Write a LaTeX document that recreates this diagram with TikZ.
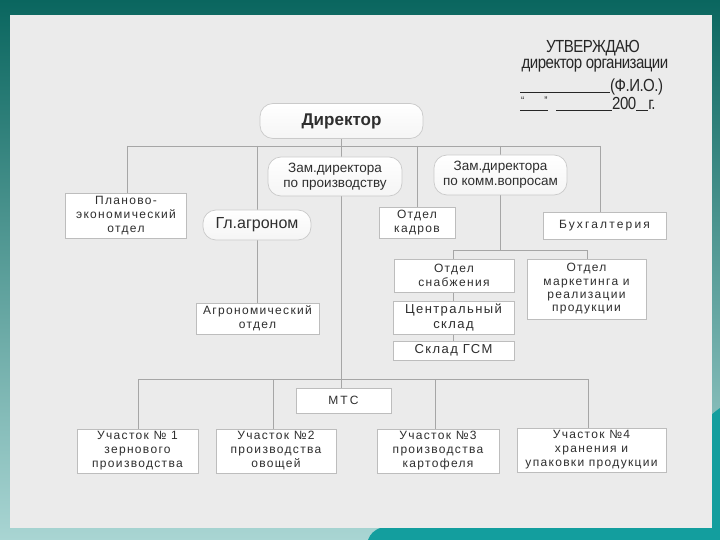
\documentclass[tikz,border=0pt]{standalone}
\usepackage{fontspec}
\setmainfont{Liberation Sans}
\newfontfamily\spf[LetterSpace=11]{Liberation Sans}
\newfontfamily\spfw[LetterSpace=18]{Liberation Sans}
\newfontfamily\narf[FakeStretch=0.86,LetterSpace=-3]{Liberation Sans}
\definecolor{tealtop}{HTML}{0A665F}
\definecolor{tealbot}{HTML}{A9D5D3}
\definecolor{tealbr}{HTML}{139E9E}
\definecolor{panel}{HTML}{EBEBEB}
\definecolor{bord}{HTML}{BDBDBD}
\definecolor{lncol}{HTML}{A6A6A6}
\definecolor{txt}{HTML}{2E2E2E}
\pgfdeclarelayer{bgl}
\pgfdeclarelayer{lines}
\pgfsetlayers{bgl,lines,main}
\tikzset{
  box/.style={draw=bord, line width=0.7pt, fill=white, align=center, text=txt,
    inner sep=1pt, font=\spf\fontsize{12}{14}\selectfont},
  rbox/.style={draw=bord!80, line width=0.7pt, rounded corners=13pt, top color=white,
    bottom color=white!92!gray, align=center, text=txt, inner sep=1pt,
    font=\fontsize{13.5}{15}\selectfont},
  ln/.style={draw=lncol, line width=0.8pt},
  stamp/.style={text=black!85, inner sep=0pt, font=\narf\fontsize{17.5}{19}\selectfont}
}
\begin{document}
\begin{tikzpicture}[x=1pt,y=-1pt]
\useasboundingbox (0,0) rectangle (720,540);
\begin{pgfonlayer}{bgl}
\fill[top color=tealtop, bottom color=tealbot] (0,0) rectangle (720,540);
\fill[tealbr] (368,540) .. controls (372,528) and (385,524) .. (410,524) -- (690,524)
  -- (690,440) .. controls (700,425) and (710,415) .. (720,408) -- (720,540) -- cycle;
\fill[panel] (10,15) rectangle (712,528);
\end{pgfonlayer}

% stamp
\node[stamp] (s1) at (593,48) {УТВЕРЖДАЮ};
\node[stamp] (s2) at (595,66) {директор организации};
\node[stamp, anchor=base west] (s3) at (520,92) {\rule[-1pt]{90pt}{0.7pt}(Ф.И.О.)};
\node[stamp, anchor=base west] (s4) at (520,110) {\makebox[0pt][l]{\raisebox{5pt}{\fontsize{11}{11}\selectfont\hspace{1pt}“\hspace{20pt}”}}\rule[-1pt]{28pt}{0.7pt}\hspace{8pt}\rule[-1pt]{56pt}{0.7pt}200\rule[-1pt]{12pt}{0.7pt}г.};

% top level
\node[rbox, minimum width=163pt, minimum height=35pt, font=\bfseries\fontsize{17}{20}\selectfont] (dir) at (341.5,121) {Директор};
\node[rbox, minimum width=134pt, minimum height=39pt] (zp) at (335,176.5) {Зам.директора\\по производству};
\node[rbox, minimum width=133pt, minimum height=40pt] (zk) at (500.5,175) {Зам.директора\\по комм.вопросам};
\node[rbox, minimum width=108pt, minimum height=30pt, font=\fontsize{16}{18}\selectfont] (gla) at (257,225) {Гл.агроном};

\node[box, minimum width=121pt, minimum height=45pt] (plan) at (126,215.5) {Планово-\\экономический\\отдел};
\node[box, minimum width=76pt, minimum height=31pt] (kadr) at (417,222.5) {Отдел\\кадров};
\node[box, minimum width=123pt, minimum height=27pt, font=\spfw\fontsize{12}{14}\selectfont] (buh) at (604.5,225.5) {Бухгалтерия};
\node[box, minimum width=120pt, minimum height=33pt] (snab) at (454,275.5) {Отдел\\снабжения};
\node[box, minimum width=119pt, minimum height=60pt, font=\spf\fontsize{12}{13.3}\selectfont] (mark) at (586.5,289) {Отдел\\маркетинга и\\реализации\\продукции};
\node[box, minimum width=121pt, minimum height=33pt, font=\spf\fontsize{13}{14.5}\selectfont] (csk) at (453.5,317.5) {Центральный\\склад};
\node[box, minimum width=121pt, minimum height=19pt, font=\spf\fontsize{13}{14.5}\selectfont] (gsm) at (453.5,350.5) {Склад ГСМ};
\node[box, minimum width=123pt, minimum height=31pt] (agro) at (257.5,318.5) {Агрономический\\отдел};
\node[box, minimum width=95pt, minimum height=25pt, font=\spfw\fontsize{12}{14}\selectfont] (mts) at (343.5,400.5) {МТС};
\node[box, minimum width=121pt, minimum height=44pt] (u1) at (137.5,451) {Участок № 1\\зернового\\производства};
\node[box, minimum width=120pt, minimum height=44pt] (u2) at (276,451) {Участок №2\\производства\\овощей};
\node[box, minimum width=122pt, minimum height=44pt] (u3) at (438,451) {Участок №3\\производства\\картофеля};
\node[box, minimum width=149pt, minimum height=44pt] (u4) at (591.5,450) {Участок №4\\хранения и\\упаковки продукции};

\coordinate (hA) at (127,146);
\coordinate (hB) at (600,146);
\coordinate (hC) at (138,379);
\coordinate (hF) at (588,379);
\coordinate (v2) at (273,379);
\coordinate (v3) at (435,379);
\coordinate (hD) at (453,250);
\coordinate (hE) at (587,250);

\begin{pgfonlayer}{lines}
\draw[ln] (hA) -- (hB);
\draw[ln] (dir.south) -- (dir.south |- hC);
\draw[ln] (hA) -- (hA |- plan.north);
\draw[ln] (gla.north |- hA) -- (agro.north -| gla.north);
\draw[ln] (kadr.north |- hA) -- (kadr.north);
\draw[ln] (zk.north |- hA) -- (zk.north |- hD);
\draw[ln] (hB) -- (hB |- buh.north);
\draw[ln] (hD) -- (hE);
\draw[ln] (hD) -- (hD |- gsm.north);
\draw[ln] (hE) -- (hE |- mark.north);
\draw[ln] (hC) -- (hF);
\draw[ln] (hC) -- (hC |- u1.north);
\draw[ln] (v2) -- (v2 |- u2.north);
\draw[ln] (v3) -- (v3 |- u3.north);
\draw[ln] (hF) -- (hF |- u4.north);
\draw[ln] (dir.south |- hC) -- (dir.south |- mts.north);
\end{pgfonlayer}
\end{tikzpicture}
\end{document}
